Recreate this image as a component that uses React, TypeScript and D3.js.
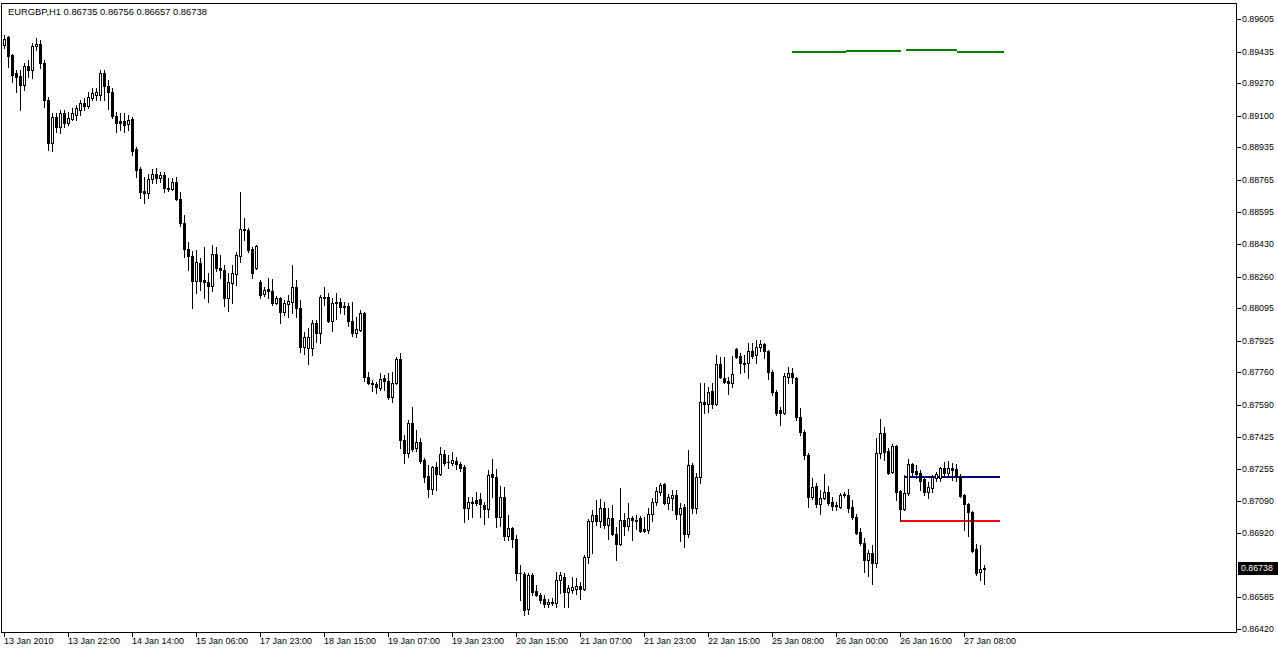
import React from "react";
import * as d3 from "d3";

const symbol = "EURGBP,H1";

const timeLabels = [
  "13 Jan 2010", "13 Jan 22:00", "14 Jan 14:00", "15 Jan 06:00", "17 Jan 23:00",
  "18 Jan 15:00", "19 Jan 07:00", "19 Jan 23:00", "20 Jan 15:00", "21 Jan 07:00",
  "21 Jan 23:00", "22 Jan 15:00", "25 Jan 08:00", "26 Jan 00:00", "26 Jan 16:00",
  "27 Jan 08:00",
];
const labelEvery = 16;

const priceTicks = [
  0.89605, 0.89435, 0.8927, 0.891, 0.88935, 0.88765, 0.88595, 0.8843, 0.8826,
  0.88095, 0.87925, 0.8776, 0.8759, 0.87425, 0.87255, 0.8709, 0.8692, 0.86585, 0.8642,
];

const openPrices = [
  0.89469,0.89511,0.89417,0.89323,0.89307,0.8926,0.8936,0.89339,0.89464,0.89475,
  0.89375,0.89182,0.88958,0.89093,0.89041,0.89114,0.89062,0.89083,0.89104,0.8913,
  0.89166,0.89151,0.89193,0.89208,0.89208,0.89323,0.89255,0.89224,0.89099,0.89072,
  0.89072,0.89057,0.89083,0.88926,0.88822,0.88707,0.88697,0.8877,0.88796,0.88775,
  0.88791,0.88723,0.88717,0.88754,0.88665,0.8854,0.88404,0.88368,0.88237,0.88331,
  0.88242,0.88232,0.88211,0.88378,0.88305,0.88295,0.88148,0.88227,0.88274,0.88368,
  0.88503,0.88503,0.88404,0.88305,0.88232,0.88169,0.88195,0.88185,0.88122,0.88148,
  0.88075,0.88117,0.88128,0.88206,0.88096,0.87893,0.87887,0.87887,0.88018,0.87966,
  0.88154,0.88154,0.88028,0.88128,0.88128,0.88107,0.88107,0.88028,0.87966,0.87981,
  0.8807,0.87736,0.87704,0.87699,0.87678,0.87731,0.87715,0.87632,0.87704,0.8783,
  0.87407,0.87339,0.87496,0.87365,0.87397,0.87303,0.87219,0.87151,0.87266,0.87229,
  0.87334,0.87292,0.87287,0.87297,0.87282,0.87266,0.87052,0.87083,0.87094,0.87099,
  0.87068,0.87047,0.87229,0.87214,0.87005,0.87109,0.86906,0.86948,0.8689,0.86713,
  0.86708,0.86525,0.86702,0.86619,0.86598,0.86577,0.86551,0.86556,0.86556,0.86676,
  0.86692,0.86613,0.86624,0.86629,0.86645,0.86629,0.86796,0.86984,0.87016,0.86984,
  0.87052,0.86963,0.87,0.86916,0.86864,0.86989,0.86958,0.87,0.86989,0.87,
  0.86942,0.86937,0.87021,0.87083,0.87135,0.87177,0.87078,0.87104,0.8712,0.87021,
  0.87057,0.86916,0.87276,0.87052,0.87214,0.87605,0.87595,0.87663,0.87595,0.87804,
  0.87731,0.87715,0.87704,0.87882,0.87845,0.87809,0.87809,0.87871,0.87851,0.87893,
  0.87908,0.87871,0.87762,0.87658,0.87564,0.87548,0.87736,0.87757,0.87731,0.87527,
  0.87449,0.87329,0.87109,0.87166,0.87073,0.87104,0.87135,0.87083,0.87062,0.87057,
  0.8712,0.8712,0.87057,0.87005,0.86927,0.86869,0.8678,0.86817,0.86765,0.87339,
  0.87444,0.8735,0.8724,0.87376,0.87141,0.87047,0.8713,0.87282,0.87245,0.87235,
  0.87203,0.87135,0.87156,0.87209,0.87209,0.87261,0.87235,0.87261,0.87256,0.87219,
  0.8712,0.87073,0.87031,0.86838,0.86718,0.86735,
];
const highPrices = [
  0.89522,0.89516,0.89422,0.89339,0.89339,0.89375,0.89391,0.8948,0.89506,0.89495,
  0.89391,0.89198,0.89114,0.89114,0.8913,0.8913,0.8912,0.8914,0.89156,0.89182,
  0.89193,0.89224,0.89245,0.89245,0.89339,0.89339,0.89287,0.89245,0.8912,0.89114,
  0.89114,0.89104,0.89093,0.88937,0.88832,0.8878,0.88796,0.88822,0.88827,0.88806,
  0.88806,0.88775,0.88775,0.8878,0.88702,0.88582,0.88441,0.88394,0.88399,0.88357,
  0.88415,0.88279,0.88425,0.88415,0.88373,0.88321,0.88279,0.88321,0.88389,0.88702,
  0.88566,0.88514,0.88415,0.88425,0.88242,0.88206,0.88253,0.88248,0.88159,0.88154,
  0.88138,0.88164,0.88321,0.88242,0.88138,0.87971,0.87992,0.88034,0.88034,0.88164,
  0.88206,0.88174,0.88148,0.88174,0.88148,0.88128,0.88122,0.88128,0.88049,0.88086,
  0.88075,0.87762,0.8772,0.8771,0.87757,0.87746,0.87757,0.87762,0.8784,0.87861,
  0.87433,0.87511,0.87579,0.87459,0.87418,0.87313,0.87276,0.87271,0.87292,0.8737,
  0.87355,0.87329,0.87344,0.87318,0.87292,0.87276,0.87109,0.87109,0.87135,0.8713,
  0.87083,0.8725,0.87308,0.87256,0.87166,0.87161,0.87016,0.86953,0.86911,0.86754,
  0.86718,0.86713,0.86713,0.8665,0.86608,0.86598,0.86577,0.86582,0.86718,0.86718,
  0.86713,0.8665,0.86692,0.86687,0.86666,0.86807,0.86995,0.87042,0.87094,0.87099,
  0.87083,0.87052,0.87068,0.86953,0.87156,0.87026,0.87078,0.8701,0.87016,0.8701,
  0.87005,0.87052,0.87104,0.87161,0.87182,0.87182,0.87125,0.87146,0.87146,0.87078,
  0.87073,0.87355,0.87287,0.87235,0.87704,0.87704,0.87683,0.87704,0.87851,0.8784,
  0.8784,0.87736,0.87845,0.87887,0.87861,0.87851,0.87913,0.87913,0.87929,0.87929,
  0.87913,0.87877,0.87772,0.87668,0.87579,0.87757,0.87788,0.87783,0.87736,0.87574,
  0.87459,0.87339,0.87209,0.87182,0.87146,0.87229,0.87166,0.87109,0.87083,0.8713,
  0.87135,0.87151,0.87094,0.87021,0.86948,0.86895,0.86833,0.86859,0.87418,0.87517,
  0.87475,0.87365,0.87386,0.87381,0.87146,0.87224,0.87308,0.87287,0.87276,0.8725,
  0.87209,0.87188,0.87224,0.8724,0.87266,0.87292,0.87297,0.87287,0.87282,0.87229,
  0.87125,0.87078,0.87036,0.86864,0.86859,0.86756,
];
const lowPrices = [
  0.89454,0.89355,0.89276,0.89224,0.8913,0.89234,0.89302,0.89297,0.89443,0.89349,
  0.89146,0.88921,0.88916,0.89015,0.8901,0.89041,0.89052,0.89078,0.89078,0.89104,
  0.8913,0.8914,0.89182,0.89182,0.89182,0.89182,0.89135,0.89088,0.89015,0.89025,
  0.89015,0.89025,0.88895,0.8878,0.8867,0.88644,0.8867,0.88749,0.88749,0.88754,
  0.88702,0.88707,0.88712,0.8866,0.88524,0.88362,0.88295,0.88096,0.88174,0.8819,
  0.88148,0.88128,0.88185,0.88289,0.88253,0.88107,0.88081,0.88122,0.88216,0.88336,
  0.88451,0.88389,0.88253,0.883,0.88148,0.88159,0.88148,0.88112,0.88117,0.88018,
  0.8806,0.88049,0.8807,0.88049,0.87866,0.87856,0.87804,0.87851,0.87919,0.87913,
  0.88112,0.88023,0.87976,0.88039,0.8807,0.88065,0.88002,0.8795,0.87945,0.87976,
  0.87715,0.87699,0.87663,0.87652,0.87668,0.87668,0.87621,0.87605,0.87699,0.87365,
  0.87287,0.87318,0.8735,0.8735,0.87287,0.87188,0.87109,0.87125,0.87146,0.87224,
  0.87276,0.87261,0.87276,0.87256,0.87245,0.86979,0.86995,0.87005,0.87068,0.87005,
  0.86969,0.87005,0.87109,0.86953,0.86958,0.86885,0.86885,0.86848,0.86676,0.86572,
  0.86494,0.86499,0.86598,0.86592,0.86556,0.86535,0.86535,0.86546,0.86535,0.86608,
  0.86535,0.86535,0.86608,0.86603,0.86577,0.86624,0.86765,0.86817,0.86963,0.86953,
  0.86948,0.8689,0.86911,0.8678,0.86859,0.86911,0.86937,0.86885,0.86942,0.86927,
  0.86927,0.86922,0.86984,0.87068,0.8712,0.87073,0.87047,0.87042,0.86995,0.8688,
  0.86848,0.86901,0.87026,0.87026,0.87182,0.87548,0.87553,0.87574,0.8759,0.87731,
  0.87704,0.87647,0.87683,0.87835,0.87757,0.87762,0.87731,0.87835,0.87809,0.87871,
  0.87835,0.87725,0.87642,0.87537,0.87485,0.87543,0.87704,0.87704,0.87511,0.87433,
  0.87308,0.87057,0.87099,0.87057,0.87021,0.87099,0.87068,0.87042,0.87042,0.87052,
  0.87109,0.87031,0.86995,0.86916,0.86859,0.86718,0.86697,0.86655,0.86744,0.87313,
  0.87303,0.87229,0.87235,0.87094,0.86989,0.87042,0.8712,0.87224,0.87209,0.87146,
  0.8712,0.87104,0.87135,0.87193,0.87193,0.87224,0.87214,0.87198,0.87193,0.87109,
  0.86937,0.86906,0.86822,0.86702,0.86676,0.86657,
];
const closePrices = [
  0.89501,0.89412,0.89313,0.89302,0.8926,0.8936,0.89339,0.89464,0.89475,0.89375,
  0.89182,0.88958,0.89093,0.89041,0.89114,0.89062,0.89088,0.89114,0.8914,0.89166,
  0.89151,0.89198,0.89219,0.89224,0.89323,0.89255,0.89224,0.89099,0.89062,0.89062,
  0.89052,0.89078,0.88916,0.88817,0.88702,0.88697,0.8877,0.88796,0.88775,0.88791,
  0.88723,0.88717,0.88754,0.88665,0.8854,0.88404,0.88368,0.88237,0.88336,0.88237,
  0.88232,0.88211,0.88378,0.88305,0.88295,0.88148,0.88232,0.88279,0.88373,0.88509,
  0.88509,0.88399,0.88279,0.8842,0.88164,0.8819,0.88185,0.88122,0.88148,0.88075,
  0.88122,0.88133,0.88206,0.88096,0.87893,0.87945,0.87945,0.88018,0.87966,0.88154,
  0.8815,0.88028,0.88122,0.88122,0.88101,0.88101,0.88028,0.87966,0.87987,0.8807,
  0.87736,0.87704,0.87699,0.87683,0.87725,0.87715,0.87632,0.87704,0.8783,0.87407,
  0.87339,0.87496,0.8736,0.87397,0.87297,0.87214,0.87151,0.87266,0.87229,0.87334,
  0.87287,0.8729,0.87303,0.87282,0.87261,0.87052,0.87083,0.8708,0.87078,0.87073,
  0.87047,0.87224,0.87214,0.87005,0.87109,0.86906,0.86948,0.8689,0.86713,0.8671,
  0.86519,0.86702,0.86613,0.86598,0.86572,0.86551,0.86561,0.86561,0.86676,0.86702,
  0.86613,0.86634,0.86639,0.86645,0.86629,0.86796,0.86984,0.87016,0.86984,0.87052,
  0.86963,0.87,0.86916,0.86864,0.86989,0.86958,0.87,0.86989,0.86986,0.86932,
  0.86932,0.87021,0.87083,0.87141,0.87172,0.87078,0.87109,0.8712,0.87021,0.87052,
  0.86916,0.87276,0.87052,0.87214,0.87605,0.87595,0.87658,0.87595,0.87804,0.87736,
  0.8771,0.87704,0.87752,0.8784,0.87809,0.87806,0.87871,0.87845,0.87893,0.87908,
  0.87871,0.87762,0.87658,0.87548,0.87548,0.87741,0.87757,0.87736,0.87527,0.87449,
  0.87329,0.87109,0.87161,0.87073,0.87104,0.87135,0.87078,0.87062,0.87065,0.8712,
  0.87123,0.87052,0.87005,0.86922,0.86869,0.8678,0.86817,0.86765,0.87339,0.87444,
  0.87344,0.87235,0.87376,0.87135,0.87047,0.8713,0.87282,0.8724,0.87229,0.87193,
  0.87135,0.87161,0.87214,0.87229,0.87261,0.87235,0.87261,0.8725,0.87214,0.87115,
  0.87073,0.87031,0.86827,0.86713,0.86733,0.86738,
];

// horizontal level lines: start bar, end bar, price, colour
const levelStart = [197, 210.5, 225.5, 238.25, 225.25, 224];
const levelEnd = [210.5, 224.25, 238.25, 250, 249, 249];
const levelPrice = [0.89438, 0.89443, 0.89446, 0.89438, 0.87219, 0.86989];
const levelColor = ["#008000", "#008000", "#008000", "#008000", "#000080", "#ff0000"];

const FONT = "Tahoma, 'Liberation Sans', Arial, sans-serif";

export default function App() {
  const W = 1278;
  const H = 652;
  const n = closePrices.length;
  const x = d3.scaleLinear().domain([0, n - 1]).range([4, 984]);
  const y = d3.scaleLinear().domain([0.8642, 0.89605]).range([629, 19]);
  const r = (v: number) => Math.round(y(v));
  const last = n - 1;
  const fmt = d3.format(".5f");
  const header = `${symbol}  ${fmt(openPrices[last])} ${fmt(highPrices[last])} ${fmt(lowPrices[last])} ${fmt(closePrices[last])}`;

  const candles = d3.range(n).map((i) => {
    const xi = Math.round(x(i));
    const o = openPrices[i];
    const c = closePrices[i];
    const top = r(Math.max(o, c));
    const bot = r(Math.min(o, c));
    const yh = r(highPrices[i]);
    const yl = r(lowPrices[i]);
    const bull = c > o;
    const els: React.ReactNode[] = [];
    if (bot - top <= 0) {
      els.push(<line key="w" x1={xi + 0.5} x2={xi + 0.5} y1={yh} y2={yl + 1} stroke="#000" />);
      els.push(<line key="d" x1={xi - 1} x2={xi + 2} y1={top + 0.5} y2={top + 0.5} stroke="#000" />);
    } else if (bull) {
      if (yh < top) els.push(<line key="u" x1={xi + 0.5} x2={xi + 0.5} y1={yh} y2={top} stroke="#000" />);
      if (yl > bot) els.push(<line key="l" x1={xi + 0.5} x2={xi + 0.5} y1={bot + 1} y2={yl + 1} stroke="#000" />);
      els.push(<rect key="b" x={xi - 0.5} y={top + 0.5} width={2} height={bot - top} fill="#fff" stroke="#000" />);
    } else {
      els.push(<line key="w" x1={xi + 0.5} x2={xi + 0.5} y1={yh} y2={yl + 1} stroke="#000" />);
      els.push(<rect key="b" x={xi - 1} y={top} width={3} height={bot - top + 1} fill="#000" />);
    }
    return <g key={i}>{els}</g>;
  });

  const cy = r(closePrices[last]);

  return (
    <div style={{ position: "absolute", left: 0, top: 0 }}>
      <svg width={W} height={H} style={{ display: "block", background: "#fff" }} shapeRendering="crispEdges">
        <rect x={0} y={0} width={W} height={H} fill="#fff" />
        {/* chart frame */}
        <rect x={1.5} y={3.5} width={1235} height={629} fill="none" stroke="#000" />
        {/* level lines */}
        {levelPrice.map((p, k) => (
          <line key={k} x1={x(levelStart[k])} x2={x(levelEnd[k])} y1={r(p) + 0.5} y2={r(p) + 0.5}
            stroke={levelColor[k]} strokeWidth={2} />
        ))}
        {candles}
        {/* header */}
        <text x={8} y={15} fontFamily={FONT} fontSize={9.4} fill="#000">{header}</text>
        {/* price axis */}
        {priceTicks.map((p) => (
          <g key={p}>
            <line x1={1237} x2={1241} y1={r(p) + 0.5} y2={r(p) + 0.5} stroke="#000" />
            <text x={1242} y={r(p) + 3} fontFamily={FONT} fontSize={8.8} fill="#000">{fmt(p)}</text>
          </g>
        ))}
        <rect x={1238} y={cy - 6} width={40} height={13} fill="#000" />
        <text x={1241} y={cy + 3} fontFamily={FONT} fontSize={8.8} fill="#fff">{fmt(closePrices[last])}</text>
        {/* time axis */}
        {timeLabels.map((t, k) => {
          const xi = Math.round(x(k * labelEvery));
          return (
            <g key={t}>
              <line x1={xi + 0.5} x2={xi + 0.5} y1={633} y2={637} stroke="#000" />
              <text x={xi} y={644} fontFamily={FONT} fontSize={9} fill="#000">{t}</text>
            </g>
          );
        })}
      </svg>
    </div>
  );
}
